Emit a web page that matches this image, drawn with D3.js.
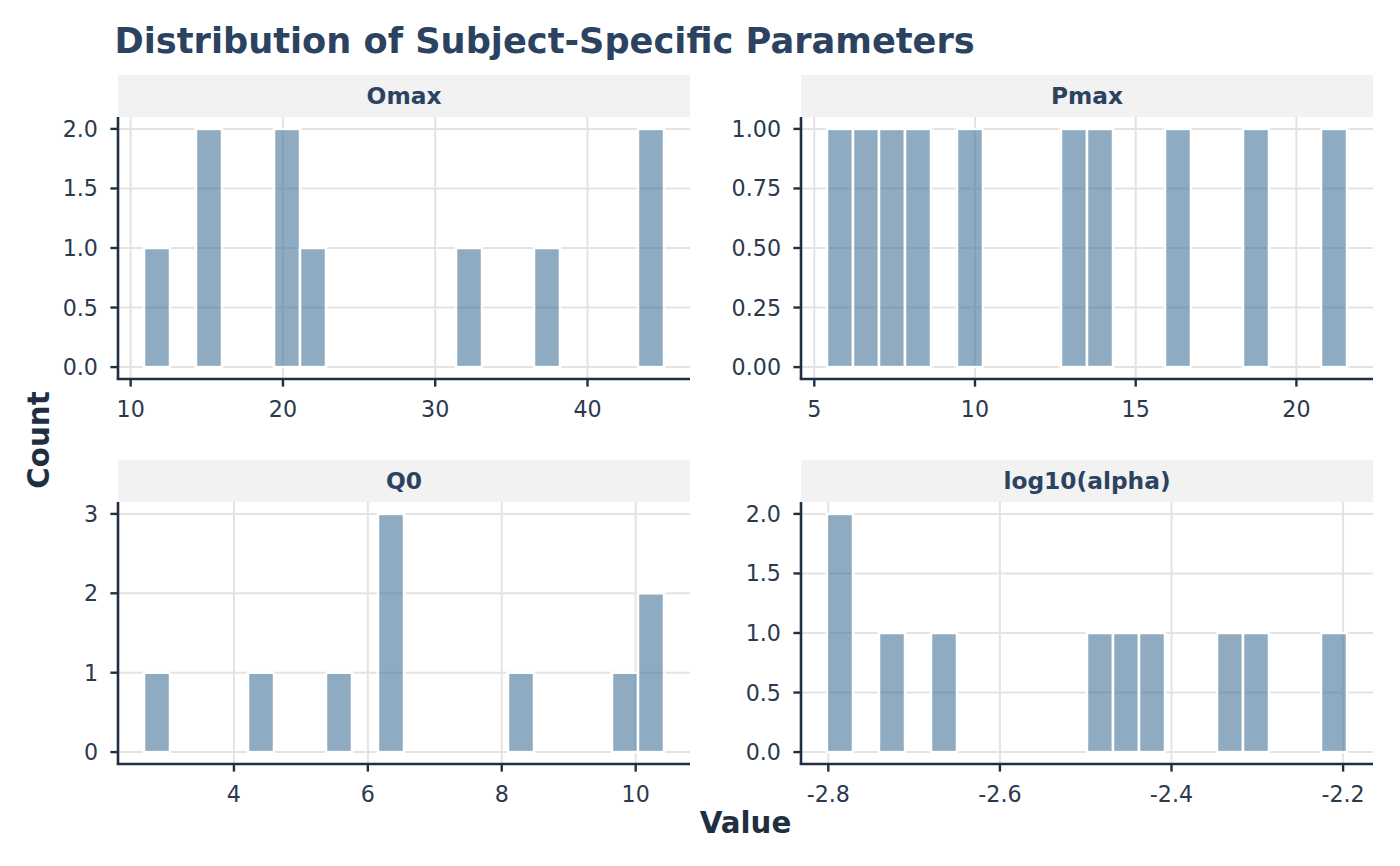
<!DOCTYPE html>
<html><head><meta charset="utf-8">
<script src="https://cdn.jsdelivr.net/npm/d3@7"></script>
<style>body{margin:0;background:#fff}svg{display:block}</style>
</head><body>
<script>
// ---- data ----
const panelNames = ["Omax", "Pmax", "Q0", "log10(alpha)"];
const omaxValues = [11.73, 14.9, 15.35, 20.05, 20.5, 22.1, 32.3, 37.2, 43.9, 44.17];
const pmaxValues = [5.80, 6.55, 7.45, 8.2, 9.9, 13.05, 13.95, 16.3, 18.8, 21.17];
const q0Values = [2.851, 4.42, 5.55, 6.28, 6.35, 6.41, 8.30, 9.82, 10.12, 10.229];
const log10AlphaValues = [-2.7864, -2.779, -2.7262, -2.668, -2.4835, -2.452, -2.4229, -2.333, -2.300, -2.2106];
const binCount = 20;
const xTicksByPanel = [[10, 20, 30, 40], [5, 10, 15, 20], [4, 6, 8, 10], [-2.8, -2.6, -2.4, -2.2]];
const yTicksByPanel = [[0, 0.5, 1, 1.5, 2], [0, 0.25, 0.5, 0.75, 1], [0, 1, 2, 3], [0, 0.5, 1, 1.5, 2]];
const yTickDecimals = [1, 2, 0, 1];
const xTickDecimals = [0, 0, 0, 1];
const titleText = "Distribution of Subject-Specific Parameters";
const xTitle = "Value", yTitle = "Count";

// ---- layout / style ----
const W = 1400, H = 866;
const colLeft = [118, 801], panelW = 572;
const stripTop = [75, 460], stripH = 42, panelH = 262;
const FONT = "'DejaVu Sans', sans-serif";
const ink = "#2b4360", axisInk = "#1f3044", tickInk = "#2a3a4e";

const svg = d3.select("body").append("svg").attr("width", W).attr("height", H)
  .style("font-family", FONT);

svg.append("text").attr("x", 114.5).attr("y", 52.5).attr("fill", ink)
  .attr("font-size", 35.2).attr("font-weight", "bold").text(titleText);

const allValues = [omaxValues, pmaxValues, q0Values, log10AlphaValues];

// ggplot2-style bins: width=(max-min)/(bins-1), first bin centred on min
function makeBins(vals) {
  const [mn, mx] = d3.extent(vals);
  const w = (mx - mn) / (binCount - 1);
  const origin = mn - w / 2;
  const thresholds = d3.range(1, binCount).map(i => origin + i * w);
  const bins = d3.bin().domain([origin, origin + binCount * w]).thresholds(thresholds)(vals);
  return bins.map(b => ({x0: b.x0, x1: b.x1, n: b.length}));
}

panelNames.forEach((name, i) => {
  const left = colLeft[i % 2], top0 = stripTop[Math.floor(i / 2)];
  const top = top0 + stripH, bottom = top + panelH, right = left + panelW;
  const bins = makeBins(allValues[i]);
  const lo = bins[0].x0, hi = bins[bins.length - 1].x1, pad = (hi - lo) * 0.05;
  const x = d3.scaleLinear().domain([lo - pad, hi + pad]).range([left, right]);
  const maxN = d3.max(bins, b => b.n);
  const y = d3.scaleLinear().domain([-0.05 * maxN, 1.05 * maxN]).range([bottom, top]);
  const g = svg.append("g");

  // strip
  g.append("rect").attr("x", left).attr("y", top0).attr("width", panelW).attr("height", stripH).attr("fill", "#f2f2f2");
  g.append("text").attr("x", left + panelW / 2).attr("y", top0 + stripH / 2 + 8.3)
    .attr("text-anchor", "middle").attr("font-size", 23.3).attr("font-weight", "bold")
    .attr("fill", ink).text(name);

  // grid
  g.selectAll(".gx").data(xTicksByPanel[i]).join("line")
    .attr("x1", d => x(d)).attr("x2", d => x(d)).attr("y1", top).attr("y2", bottom)
    .attr("stroke", "#e3e3e3").attr("stroke-width", 2);
  g.selectAll(".gy").data(yTicksByPanel[i]).join("line")
    .attr("x1", left).attr("x2", right).attr("y1", d => y(d)).attr("y2", d => y(d))
    .attr("stroke", "#e3e3e3").attr("stroke-width", 2);

  // bars
  g.selectAll(".bar").data(bins).join("rect")
    .attr("x", d => x(d.x0)).attr("width", d => x(d.x1) - x(d.x0))
    .attr("y", d => y(d.n)).attr("height", d => y(0) - y(d.n))
    .attr("fill", "#43739a").attr("fill-opacity", 0.6)
    .attr("stroke", "#ffffff").attr("stroke-width", 2.5);

  // axes
  g.append("line").attr("x1", left).attr("x2", left).attr("y1", top).attr("y2", bottom)
    .attr("stroke", axisInk).attr("stroke-width", 2.6);
  g.append("line").attr("x1", left - 1.3).attr("x2", right).attr("y1", bottom).attr("y2", bottom)
    .attr("stroke", axisInk).attr("stroke-width", 2.6);

  g.selectAll(".ty").data(yTicksByPanel[i]).join("line")
    .attr("x1", left - 7.6).attr("x2", left).attr("y1", d => y(d)).attr("y2", d => y(d))
    .attr("stroke", axisInk).attr("stroke-width", 2.4);
  g.selectAll(".tyl").data(yTicksByPanel[i]).join("text")
    .attr("x", left - 20).attr("y", d => y(d) + 8).attr("text-anchor", "end")
    .attr("font-size", 22.2).attr("fill", tickInk)
    .text(d => d.toFixed(yTickDecimals[i]));

  g.selectAll(".tx").data(xTicksByPanel[i]).join("line")
    .attr("x1", d => x(d)).attr("x2", d => x(d)).attr("y1", bottom).attr("y2", bottom + 7.6)
    .attr("stroke", axisInk).attr("stroke-width", 2.4);
  g.selectAll(".txl").data(xTicksByPanel[i]).join("text")
    .attr("x", d => x(d)).attr("y", bottom + 38).attr("text-anchor", "middle")
    .attr("font-size", 22.2).attr("fill", tickInk)
    .text(d => d.toFixed(xTickDecimals[i]));
});

svg.append("text").attr("x", (colLeft[0] + colLeft[1] + panelW) / 2).attr("y", 833)
  .attr("text-anchor", "middle").attr("font-size", 29.3).attr("font-weight", "bold")
  .attr("fill", "#1f2f3f").text(xTitle);
svg.append("text").attr("transform", "translate(38,440) rotate(-90)").attr("dy", "0.36em")
  .attr("text-anchor", "middle").attr("font-size", 29.3).attr("font-weight", "bold")
  .attr("fill", "#1f2f3f").text(yTitle);
</script>
</body></html>
